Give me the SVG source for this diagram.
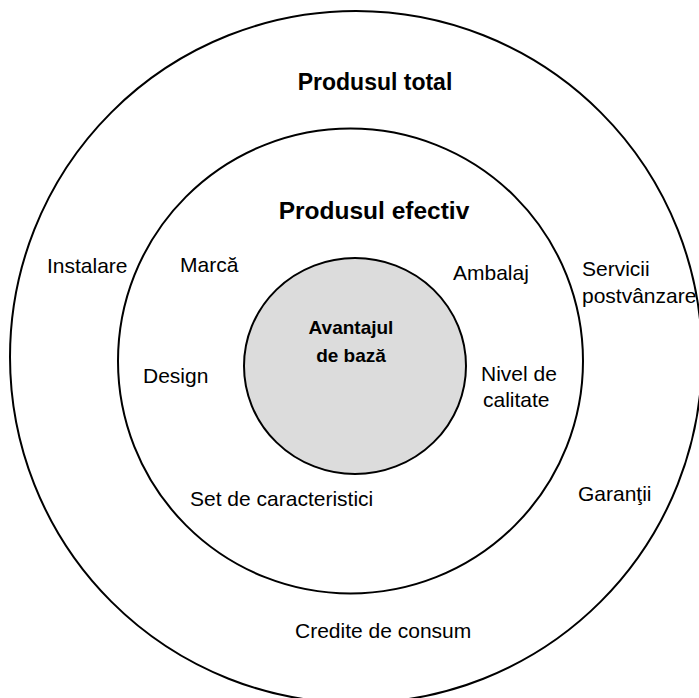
<svg xmlns="http://www.w3.org/2000/svg" width="699" height="698" viewBox="0 0 699 698">
<style>
.ring{fill:none;stroke:#000;stroke-width:2}
.core{fill:#dcdcdc;stroke:#000;stroke-width:2}
.t{font-family:"Liberation Sans",Arial,sans-serif;font-size:21px;fill:#000}
.b{font-family:"Liberation Sans",Arial,sans-serif;font-weight:bold;fill:#000}
</style>
<rect width="699" height="698" fill="#fff"/>
<g id="outer">
<circle class="ring" cx="356" cy="357" r="346"/>
<text class="b" x="375" y="90" font-size="23" text-anchor="middle">Produsul total</text>
<text class="t" x="47" y="273">Instalare</text>
<text class="t" x="582" y="276">Servicii</text>
<text class="t" x="582" y="303">postvânzare</text>
<text class="t" x="578" y="501">Garanţii</text>
<text class="t" x="295" y="638">Credite de consum</text>
</g>
<g id="middle">
<circle class="ring" cx="350.5" cy="361" r="232.5"/>
<text class="b" x="374" y="219" font-size="24.5" text-anchor="middle">Produsul efectiv</text>
<text class="t" x="180" y="272">Marcă</text>
<text class="t" x="453" y="280">Ambalaj</text>
<text class="t" x="143" y="383">Design</text>
<text class="t" x="481" y="381">Nivel de</text>
<text class="t" x="483" y="407">calitate</text>
<text class="t" x="190" y="506">Set de caracteristici</text>
</g>
<g id="core">
<ellipse class="core" cx="355" cy="366" rx="111" ry="108"/>
<text class="b" x="351" y="334" font-size="19" text-anchor="middle">Avantajul</text>
<text class="b" x="351" y="362" font-size="19" text-anchor="middle">de bază</text>
</g>
<g id="connectors"/>
</svg>
